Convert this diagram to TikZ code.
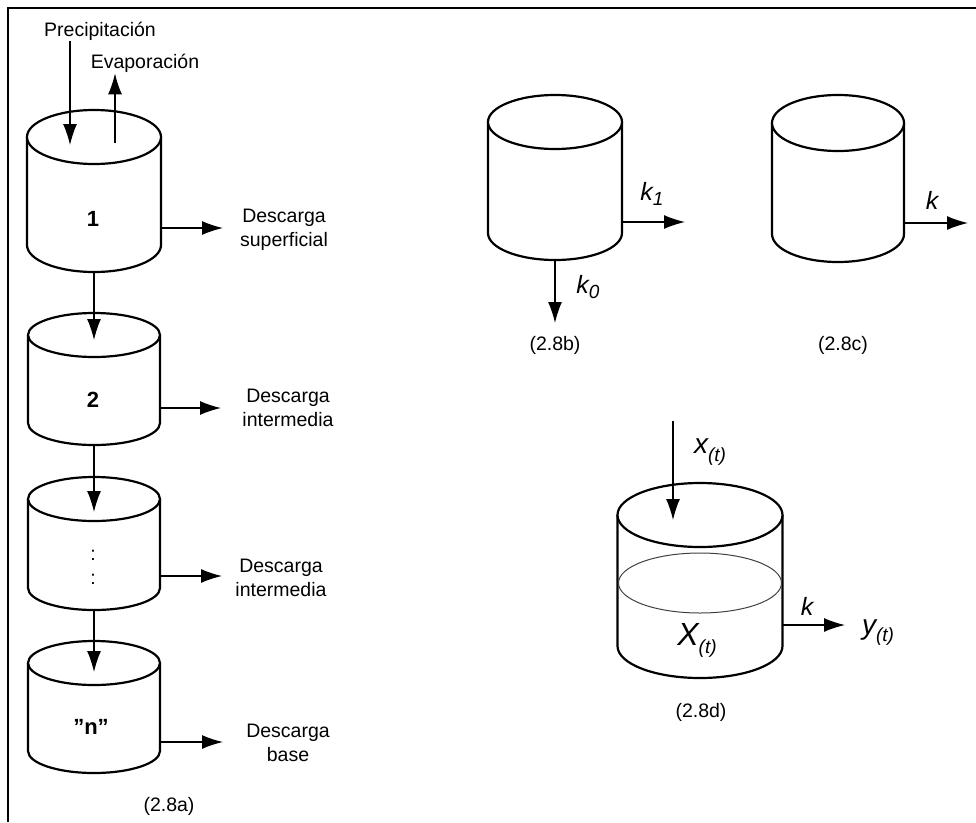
\documentclass[tikz,border=0pt]{standalone}
\usepackage{fontspec}
\setmainfont{Liberation Sans}
\usetikzlibrary{arrows.meta,calc}
\tikzset{pared/.style={line width=2.2pt,fill=white}}
\tikzset{nivel/.style={line width=1pt,black!75}}
\tikzset{flujo/.style={-{Latex[length=21pt,width=14pt]},line width=1.3pt}}
\tikzset{texto/.style={inner sep=1pt,align=center,font=\fontsize{19.5}{24}\selectfont}}
\tikzset{cifra/.style={inner sep=1pt,font=\fontsize{22}{25}\selectfont\bfseries}}
\tikzset{simbolo/.style={inner sep=1pt,font=\fontsize{25}{28}\selectfont\itshape}}
\tikzset{pics/tanque/.style n args={3}{code={
    \draw[pared] (-#1,0) -- (-#1,#3) arc[start angle=180,end angle=0,x radius=#1,y radius=#2] -- (#1,0);
    \draw[pared] (0,0) ellipse[x radius=#1,y radius=#2];
    \coordinate (-o) at (0,0);
    \coordinate (-b) at (0,#3+#2);
    \coordinate (-r) at (#1,#3);
}}}
\newcommand{\subind}[2]{\raisebox{-#1pt}{\fontsize{19}{19}\selectfont\itshape #2}}

\begin{document}
\begin{tikzpicture}[x=1pt,y=-1pt]
    \useasboundingbox (0,0) rectangle (976,822);
    \draw[line width=2pt] (8,822) -- (8,8) -- (976,8);

    % (2.8a) tanques en serie
    \pic (c1) at (94,137) {tanque={67}{27}{108}};
    \pic (c2) at (94,335) {tanque={66}{22}{88}};
    \pic (c3) at (94,499) {tanque={66}{22}{89}};
    \pic (cn) at (94,663) {tanque={66}{22}{88}};
    \node[cifra] (n1) at (93,219) {1};
    \node[cifra] (n2) at (93,400) {2};
    \node[texto] (n3) at (93,567) {:\\:};
    \node[cifra] (nn) at (91,727) {\symbol{34}n\symbol{34}};

    \node[texto] (prec) at (100,31) {Precipitación};
    \node[texto] (evap) at (145,63) {Evaporación};
    \coordinate (pp) at (70,145);
    \coordinate (ev) at (115,143);
    \draw[flujo] (prec.south -| pp) -- (pp);
    \draw[flujo] (ev) -- (evap.south -| ev);

    \draw[flujo] (c1-b) -- ($(c2-o)+(0,5)$);
    \draw[flujo] (c2-b) -- ($(c3-o)+(0,13)$);
    \draw[flujo] (c3-b) -- ($(cn-o)+(0,9)$);

    \node[texto] (d1) at (284,230) {Descarga\\superficial};
    \node[texto] (d2) at (288,408) {Descarga\\intermedia};
    \node[texto] (d3) at (281,578) {Descarga\\intermedia};
    \node[texto] (d4) at (288,743) {Descarga\\base};
    \coordinate (s1) at (223,228);
    \coordinate (s2) at (221,408);
    \coordinate (s3) at (222,576);
    \coordinate (s4) at (223,742);
    \draw[flujo] (s1 -| c1-r) -- (s1);
    \draw[flujo] (s2 -| c2-r) -- (s2);
    \draw[flujo] (s3 -| c3-r) -- (s3);
    \draw[flujo] (s4 -| cn-r) -- (s4);
    \node[texto] (la) at (169,806) {(2.8a)};

    % (2.8b)
    \pic (cb) at (555,122) {tanque={67}{27}{111}};
    \coordinate (kb1) at (685,222);
    \coordinate (kb0) at (555,323);
    \draw[flujo] (kb1 -| cb-r) -- (kb1);
    \draw[flujo] (cb-b) -- (kb0);
    \node[simbolo] (k1) at (652,194) {k\subind{5}{1}};
    \node[simbolo] (k0) at (588,287) {k\subind{5}{0}};
    \node[texto] (lb) at (555,345) {(2.8b)};

    % (2.8c)
    \pic (cc) at (838,123) {tanque={66}{28}{111}};
    \coordinate (kc) at (968,223);
    \draw[flujo] (kc -| cc-r) -- (kc);
    \node[simbolo] (k) at (932,200) {k};
    \node[texto] (lc) at (843,345) {(2.8c)};

    % (2.8d)
    \pic (cd) at (700,515) {tanque={82.5}{32}{131}};
    \draw[nivel] ($(cd-o)+(0,68)$) ellipse[x radius=81.5,y radius=30];
    \coordinate (xin) at (673,421);
    \coordinate (xout) at (673,520);
    \coordinate (yout) at (845,625);
    \draw[flujo] (xin) -- (xout);
    \draw[flujo] (yout -| cd-r) -- (yout);
    \node[simbolo,font=\fontsize{28}{30}\selectfont\itshape] (xt) at (710,452) {x\subind{8}{(t)}};
    \node[simbolo,font=\fontsize{32}{34}\selectfont\itshape] (Xt) at (697,640) {X\subind{8}{(t)}};
    \node[simbolo,font=\fontsize{28}{30}\selectfont\itshape] (yt) at (878,633) {y\subind{7}{(t)}};
    \node[simbolo] (kd) at (807,606) {k};
    \node[texto] (ld) at (701,712) {(2.8d)};
\end{tikzpicture}
\end{document}
